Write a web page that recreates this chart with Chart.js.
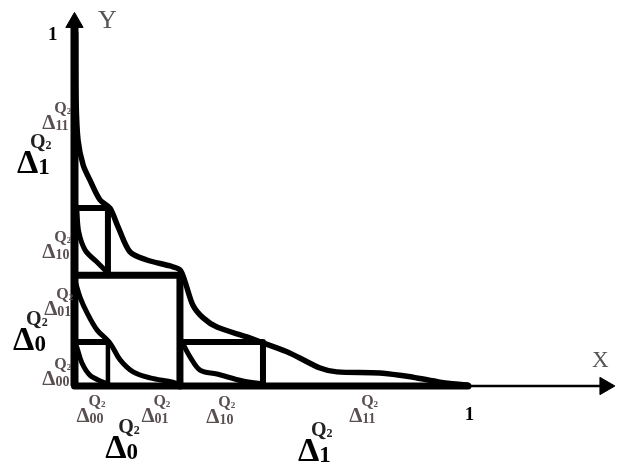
<!doctype html>
<html>
<head>
<meta charset="utf-8">
<title>Δ partition of the unit square</title>
<style>
  body { margin: 0; background: #fff; }
  canvas { display: block; }
</style>
</head>
<body>
<canvas id="chart" width="627" height="468"></canvas>
<script src="https://cdn.jsdelivr.net/npm/chart.js"></script>
<script>
// outer curve, running from the top of the y axis down to (1, 0)
const outerCurve = [
  {x: 0.003, y: 1.0}, {x: 0.004, y: 0.81}, {x: 0.009, y: 0.697}, {x: 0.022, y: 0.626},
  {x: 0.039, y: 0.584}, {x: 0.065, y: 0.527}, {x: 0.09, y: 0.504}, {x: 0.111, y: 0.45},
  {x: 0.141, y: 0.38}, {x: 0.184, y: 0.357}, {x: 0.243, y: 0.34}, {x: 0.268, y: 0.329},
  {x: 0.281, y: 0.295}, {x: 0.301, y: 0.229}, {x: 0.327, y: 0.193}, {x: 0.362, y: 0.167},
  {x: 0.438, y: 0.139}, {x: 0.479, y: 0.122}, {x: 0.548, y: 0.093}, {x: 0.624, y: 0.051},
  {x: 0.667, y: 0.04}, {x: 0.776, y: 0.037}, {x: 0.86, y: 0.025}, {x: 0.929, y: 0.011},
  {x: 0.997, y: 0.003}
];

// smaller copies inside each cell
const upperCurve = [
  {x: 0.006, y: 0.499}, {x: 0.011, y: 0.436}, {x: 0.027, y: 0.385},
  {x: 0.057, y: 0.351}, {x: 0.085, y: 0.32}
];
const squareCurve = [
  {x: 0.001, y: 0.3}, {x: 0.014, y: 0.252}, {x: 0.032, y: 0.207}, {x: 0.057, y: 0.159},
  {x: 0.09, y: 0.122}, {x: 0.116, y: 0.074}, {x: 0.149, y: 0.04}, {x: 0.192, y: 0.023},
  {x: 0.25, y: 0.011}, {x: 0.268, y: 0.003}
];
const lowerCurve = [
  {x: 0.006, y: 0.11}, {x: 0.019, y: 0.065}, {x: 0.039, y: 0.031},
  {x: 0.072, y: 0.011}, {x: 0.085, y: 0.006}
];
const rightCurve = [
  {x: 0.273, y: 0.125}, {x: 0.294, y: 0.082}, {x: 0.319, y: 0.045},
  {x: 0.362, y: 0.034}, {x: 0.428, y: 0.014}, {x: 0.479, y: 0.006}
];

// split points of the partition
const splitX = [0.085, 0.268, 0.479];
const splitY = [0.504, 0.314, 0.125];

// Δ labels: subscript, anchor (x, y) in data units, big or small
const deltaSubs = ['11', '1', '10', '01', '0', '00', '00', '01', '10', '11', '0', '1'];
const deltaX = [-0.082, -0.146, -0.082, -0.077, -0.156, -0.082, 0.005, 0.170, 0.335, 0.698, 0.078, 0.568];
const deltaY = [0.728, 0.603, 0.363, 0.201, 0.102, 0.003, -0.102, -0.102, -0.105, -0.102, -0.204, -0.212];
const deltaBig = [false, true, false, false, true, false, false, false, false, false, true, true];

// axis end marks
const axisNames = ['Y', 'X'];
const axisEnd = 1;

const smallStyle = {
  color: '#5a4f50', supColor: '#5a4f50',
  delta: 'bold 21px "Liberation Serif"', sub: 'bold 14px "Liberation Serif"',
  sup: 'bold 16px "Liberation Serif"', two: 'bold 9px "Liberation Serif"',
  subDrop: 1, supDx: 12, supRise: 16, twoDrop: 1
};
const bigStyle = {
  color: '#000', supColor: '#222',
  delta: 'bold 34px "Liberation Serif"', sub: 'bold 23px "Liberation Serif"',
  sup: 'bold 20px "Liberation Serif"', two: 'bold 12px "Liberation Serif"',
  subDrop: 1, supDx: 13, supRise: 25, twoDrop: 1
};

function stroke(points, width, tension) {
  return {
    data: points,
    showLine: true,
    borderColor: '#000',
    borderWidth: width,
    borderCapStyle: 'round',
    borderJoinStyle: 'round',
    pointRadius: 0,
    tension: tension,
    clip: false
  };
}

function arrow(points, width, rotation) {
  return {
    data: points,
    showLine: true,
    borderColor: '#000',
    borderWidth: width,
    pointRadius: [0, 10],
    pointStyle: 'triangle',
    rotation: rotation,
    pointBackgroundColor: '#000',
    pointBorderColor: '#000',
    pointBorderWidth: 1,
    tension: 0,
    clip: false
  };
}

const [sx0, sx1, sx2] = splitX;
const [sy0, sy1, sy2] = splitY;

const datasets = [
  arrow([{x: 0, y: 0}, {x: 1.348, y: 0}], 2.5, 90),
  arrow([{x: 0, y: 0}, {x: 0, y: 1.03}], 8, 0),
  stroke([{x: 0, y: 0}, {x: axisEnd, y: 0}], 7, 0),
  stroke([{x: 0, y: sy0}, {x: sx0, y: sy0}, {x: sx0, y: sy1}], 6, 0),
  stroke([{x: 0, y: sy1}, {x: sx1, y: sy1}, {x: sx1, y: 0}], 7, 0),
  stroke([{x: 0, y: sy2}, {x: sx0, y: sy2}], 6, 0),
  stroke([{x: sx0, y: sy2}, {x: sx0, y: 0}], 4.5, 0),
  stroke([{x: sx1, y: sy2}, {x: sx2, y: sy2}, {x: sx2, y: 0}], 6, 0),
  stroke(outerCurve, 5.5, 0.3),
  stroke(upperCurve, 5, 0.35),
  stroke(squareCurve, 5, 0.35),
  stroke(lowerCurve, 5, 0.35),
  stroke(rightCurve, 5, 0.35)
];

const labelPlugin = {
  id: 'deltaLabels',
  afterDatasetsDraw(chart) {
    const ctx = chart.ctx;
    const xs = chart.scales.x;
    const ys = chart.scales.y;
    ctx.save();
    ctx.textAlign = 'left';
    ctx.textBaseline = 'alphabetic';

    deltaSubs.forEach((sub, i) => {
      const st = deltaBig[i] ? bigStyle : smallStyle;
      const px = xs.getPixelForValue(deltaX[i]);
      const py = ys.getPixelForValue(deltaY[i]);
      ctx.fillStyle = st.color;
      ctx.font = st.delta;
      ctx.fillText('Δ', px, py);
      const dw = ctx.measureText('Δ').width;
      ctx.font = st.sub;
      ctx.fillText(sub, px + dw, py + st.subDrop);
      ctx.fillStyle = st.supColor;
      ctx.font = st.sup;
      ctx.fillText('Q', px + st.supDx, py - st.supRise);
      const qw = ctx.measureText('Q').width;
      ctx.font = st.two;
      ctx.fillText('2', px + st.supDx + qw, py - st.supRise + st.twoDrop);
    });

    // the "1" marks at the end of each axis
    ctx.fillStyle = '#000';
    ctx.font = 'bold 19px "Liberation Serif"';
    ctx.fillText(String(axisEnd), xs.getPixelForValue(-0.067), ys.getPixelForValue(0.98));
    ctx.fillText(String(axisEnd), xs.getPixelForValue(0.992), ys.getPixelForValue(-0.096));

    // axis names
    ctx.fillStyle = '#555';
    ctx.font = '26px "Liberation Serif"';
    ctx.fillText(axisNames[0], xs.getPixelForValue(0.06), ys.getPixelForValue(1.014));
    ctx.font = '23px "Liberation Serif"';
    ctx.fillText(axisNames[1], xs.getPixelForValue(1.315), ys.getPixelForValue(0.054));
    ctx.restore();
  }
};

new Chart(document.getElementById('chart'), {
  type: 'scatter',
  data: { datasets: datasets },
  options: {
    responsive: false,
    animation: false,
    devicePixelRatio: 1,
    layout: { padding: 0, autoPadding: false },
    plugins: { legend: { display: false }, tooltip: { enabled: false } },
    scales: {
      x: { type: 'linear', display: false, min: -0.1893, max: 1.4041 },
      y: { type: 'linear', display: false, min: -0.2323, max: 1.0935 }
    }
  },
  plugins: [labelPlugin]
});
</script>
</body>
</html>
